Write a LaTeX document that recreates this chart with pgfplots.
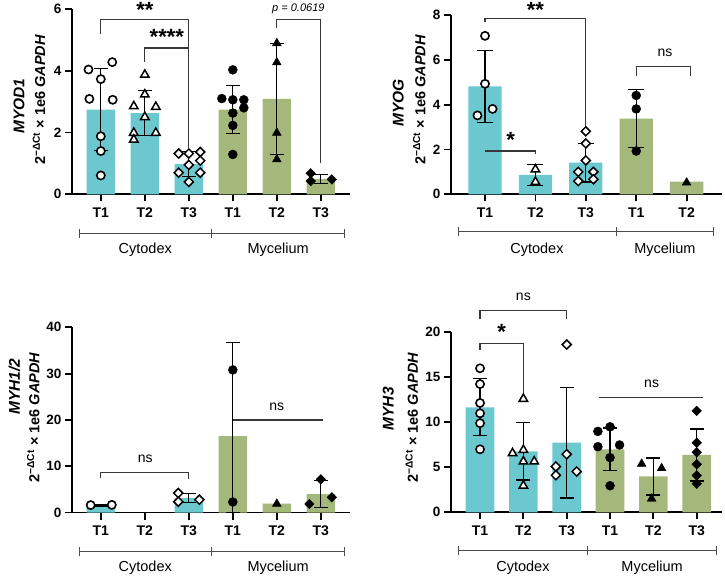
\documentclass[border=0pt]{standalone}
\usepackage{fontspec}
\setmainfont{Liberation Sans}
\usepackage{pgfplots}
\pgfplotsset{compat=1.18}
\definecolor{cyto}{RGB}{108,200,207}
\definecolor{myc}{RGB}{164,184,123}
\definecolor{brk}{RGB}{55,55,55}
\newcommand{\grpfont}{\fontsize{14.5}{17}\selectfont}
\pgfplotsset{
  panel/.style={
    scale only axis, clip=false, anchor=south west,
    axis x line*=bottom, axis y line*=left,
    axis line style={-, line width=1.8pt, black},
    every outer x axis line/.append style={-},
    every outer y axis line/.append style={-},
    tick style={line width=1.8pt, black},
    tick align=outside, major tick length=7pt,
    xtick={0,...,5}, xticklabels={T1,T2,T3,T1,T2,T3},
    ymin=0,
    /pgf/number format/assume math mode=true,
    xticklabel style={font=\fontsize{14}{16}\selectfont\bfseries, yshift=-3pt},
    yticklabel style={font=\fontsize{13.5}{16}\selectfont\bfseries},
  },
  errb/.style={forget plot, draw=none, mark=none,
    error bars/.cd, y dir=both, y explicit, error mark=-,
    error bar style={draw=black, line width=1.3pt, solid},
    error mark options={draw=black, line width=1.3pt, rotate=90, mark size=#1}},
  errb/.default=7pt,
  ocirc/.style={only marks, mark=*, mark size=4.1pt, mark options={draw=black, fill=white, line width=1.6pt}},
  fcirc/.style={only marks, mark=*, mark size=4.5pt, mark options={draw=black, fill=black}},
  otri/.style={only marks, mark=triangle*, mark size=4.9pt, mark options={draw=black, fill=white, line width=1.5pt}},
  ftri/.style={only marks, mark=triangle*, mark size=5.1pt, mark options={draw=black, fill=black}},
  odia/.style={only marks, mark=square*, mark size=3.2pt, mark options={draw=black, fill=white, line width=1.5pt, rotate=45}},
  fdia/.style={only marks, mark=square*, mark size=3.4pt, mark options={draw=black, fill=black, rotate=45}},
}
\tikzset{
  brk/.style={draw=brk, line width=1.2pt},
  star/.style={font=\fontsize{22}{24}\selectfont\bfseries, anchor=base, yshift=-8pt, inner sep=0pt},
  nstext/.style={font=\fontsize{14}{16}\selectfont, inner sep=0pt},
  grpline/.style={draw=black!70, line width=1pt},
  genel/.style={font=\fontsize{15.5}{18}\selectfont\bfseries\itshape, rotate=90, anchor=center, inner sep=0pt},
  unitl/.style={font=\fontsize{14.5}{17}\selectfont\bfseries, rotate=90, anchor=center, inner sep=0pt},
}
% group bracket: left, mid, right, cyto label x, myc label x, line depth
\newcommand{\grp}[6]{%
  \draw[grpline] ([yshift=-#6pt]axis cs:#1,0) -- ([yshift=-#6pt]axis cs:#3,0);
  \draw[grpline] ([yshift=-#6pt+4.5pt]axis cs:#1,0) -- ([yshift=-#6pt-4.5pt]axis cs:#1,0);
  \draw[grpline] ([yshift=-#6pt+4.5pt]axis cs:#2,0) -- ([yshift=-#6pt-4.5pt]axis cs:#2,0);
  \draw[grpline] ([yshift=-#6pt+4.5pt]axis cs:#3,0) -- ([yshift=-#6pt-4.5pt]axis cs:#3,0);
  \node[font=\grpfont, anchor=base, inner sep=0pt] at ([yshift=-59pt]axis cs:#4,0) {Cytodex};
  \node[font=\grpfont, anchor=base, inner sep=0pt] at ([yshift=-59pt]axis cs:#5,0) {Mycelium};
}
\begin{document}
\begin{tikzpicture}
\useasboundingbox (0pt,0pt) rectangle (725pt,576pt);
\coordinate (P1) at (72pt,381.7pt);
\coordinate (P2) at (451pt,381.7pt);
\coordinate (P3) at (72pt,63.5pt);
\coordinate (P4) at (451pt,63.7pt);

% ---------------- MYOD1 ----------------
\begin{axis}[panel, at={(P1)}, width=277.5pt, height=185.3pt,
  xmin=-0.655, xmax=5.652, ymax=6, ytick={0,2,4,6}]
\addplot[ybar, bar shift=0pt, bar width=28.3pt, fill=cyto, draw=none] coordinates {(0,2.74) (1,2.63) (2,0.98)};
\addplot[ybar, bar shift=0pt, bar width=28.3pt, fill=myc, draw=none] coordinates {(3,2.74) (4,3.09) (5,0.50)};
\addplot[errb] coordinates {(0,2.74) +- (0,1.33) (1,2.63) +- (0,0.72) (2,0.98) +- (0,0.40)
  (3,2.74) +- (0,0.78) (4,3.09) +- (0,1.80) (5,0.50) +- (0,0.14)};
\addplot[ocirc] coordinates {(-0.28,4.04) (0.26,4.28) (0,3.73) (-0.26,3.09) (0.27,3.06) (0,1.88) (0,1.40) (0,0.61)};
\addplot[otri] coordinates {(1,3.87) (1,3.23) (1.25,2.83) (0.75,2.85) (1,2.50) (0.75,1.99) (1.25,1.99) (0.75,1.77)};
\addplot[odia] coordinates {(1.77,1.32) (2,1.32) (2.26,1.37) (2.26,1.09) (2,0.95) (1.77,0.70) (2.26,0.70) (2,0.40)};
\addplot[fcirc] coordinates {(3,4.03) (2.75,3.10) (3,3.06) (3.25,3.06) (3.25,2.80) (3,2.63) (3,2.23) (3,1.29)};
\addplot[ftri] coordinates {(4,4.89) (4,4.27) (4,1.99) (4,1.13)};
\addplot[fdia] coordinates {(4.77,0.68) (4.77,0.43) (5.25,0.48)};
\draw[brk] (axis cs:0,5.2) -- (axis cs:0,5.67) -- (axis cs:2,5.67) -- (axis cs:2,1.49);
\draw[brk] (axis cs:1,4.29) -- (axis cs:1,4.74) -- (axis cs:2,4.74);
\draw[brk] (axis cs:4,5.37) -- (axis cs:4,5.67) -- (axis cs:5,5.67) -- (axis cs:5,1.0);
\node[star] at (axis cs:1,5.98) {**};
\node[star] at (axis cs:1.5,5.1) {****};
\node[font=\fontsize{11}{13}\selectfont\itshape, inner sep=0pt] at (axis cs:4.49,6.02) {p = 0.0619};
\grp{-0.495}{2.52}{5.53}{1.01}{4.03}{39}
\end{axis}

% ---------------- MYOG ----------------
\begin{axis}[panel, at={(P2)}, width=270.7pt, height=179.3pt,
  xmin=-0.675, xmax=4.696, ymax=8, ytick={0,2,4,6,8},
  xtick={0,...,4}, xticklabels={T1,T2,T3,T1,T2}]
\addplot[ybar, bar shift=0pt, bar width=33.3pt, fill=cyto, draw=none] coordinates {(0,4.81) (1,0.87) (2,1.41)};
\addplot[ybar, bar shift=0pt, bar width=33.3pt, fill=myc, draw=none] coordinates {(3,3.38) (4,0.56)};
\addplot[errb=8pt] coordinates {(0,4.81) +- (0,1.6) (1,0.87) +- (0,0.47) (2,1.41) +- (0,0.86) (3,3.38) +- (0,1.3)};
\addplot[ocirc] coordinates {(0,7.07) (0,4.93) (-0.15,3.52) (0.15,3.81)};
\addplot[otri] coordinates {(1,1.11) (1,0.55)};
\addplot[odia] coordinates {(2,2.81) (2,2.27) (2,1.51) (1.85,1.0) (2.15,1.0) (1.85,0.59) (2.15,0.67)};
\addplot[fcirc] coordinates {(3,4.41) (3,3.81) (3,1.93)};
\addplot[ftri] coordinates {(4,0.52)};
\draw[brk] (axis cs:0,7.7) -- (axis cs:0,7.86) -- (axis cs:2,7.86) -- (axis cs:2,3.04);
\draw[brk] (axis cs:0,1.93) -- (axis cs:1,1.93) -- (axis cs:1,1.78);
\draw[brk] (axis cs:3,5.26) -- (axis cs:3,5.7) -- (axis cs:4.08,5.7) -- (axis cs:4.08,5.26);
\node[star] at (axis cs:1,8.26) {**};
\node[star] at (axis cs:0.51,2.44) {*};
\node[nstext] at (axis cs:3.57,6.3) {ns};
\grp{-0.53}{2.6}{4.54}{1.03}{3.57}{37.4}
\end{axis}

% ---------------- MYH1/2 ----------------
\begin{axis}[panel, at={(P3)}, width=277.5pt, height=185.2pt,
  xmin=-0.655, xmax=5.652, ymax=40, ytick={0,10,20,30,40}]
\addplot[ybar, bar shift=0pt, bar width=28.5pt, fill=cyto, draw=none] coordinates {(0,1.5) (2,3.1)};
\addplot[ybar, bar shift=0pt, bar width=28.5pt, fill=myc, draw=none] coordinates {(3,16.5) (4,1.94) (5,3.96)};
\addplot[errb] coordinates {(0,1.5) +- (0,0.12) (2,3.1) +- (0,0.95) (3,16.5) += (0,20.2) -= (0,16.5) (5,3.96) +- (0,2.9)};
\addplot[ocirc] coordinates {(-0.23,1.6) (0.25,1.65)};
\addplot[odia] coordinates {(1.76,4.2) (1.76,2.33) (2.24,2.77)};
\addplot[fcirc] coordinates {(3,30.8) (3,2.27)};
\addplot[ftri] coordinates {(4,1.87)};
\addplot[fdia] coordinates {(5,7.17) (4.74,1.84) (5.25,3.28)};
\draw[brk] (axis cs:0,7.39) -- (axis cs:0,8.68) -- (axis cs:2,8.68) -- (axis cs:2,7.17);
\draw[brk] (axis cs:3,20.0) -- (axis cs:5.06,20.0);
\node[nstext] at (axis cs:1.01,11.7) {ns};
\node[nstext] at (axis cs:4.0,22.85) {ns};
\grp{-0.495}{2.52}{5.53}{1.01}{4.03}{39}
\end{axis}

% ---------------- MYH3 ----------------
\begin{axis}[panel, at={(P4)}, width=270.7pt, height=180pt,
  xmin=-0.67, xmax=5.577, ymax=20, ytick={0,5,10,15,20}]
\addplot[ybar, bar shift=0pt, bar width=28.7pt, fill=cyto, draw=none] coordinates {(0,11.67) (1,6.78) (2,7.73)};
\addplot[ybar, bar shift=0pt, bar width=28.7pt, fill=myc, draw=none] coordinates {(3,7.0) (4,3.98) (5,6.37)};
\addplot[errb] coordinates {(0,11.67) +- (0,3.17) (1,6.78) +- (0,3.2) (2,7.73) +- (0,6.15)
  (3,7.0) +- (0,2.37) (4,3.98) +- (0,2.05) (5,6.37) +- (0,2.9)};
\addplot[ocirc] coordinates {(0,16.0) (0,14.25) (0,12.15) (0,11.0) (0,9.9) (0,7.0)};
\addplot[otri] coordinates {(1,12.6) (0.75,6.56) (1,6.92) (1,5.64) (1.25,5.64) (1,2.95)};
\addplot[odia] coordinates {(2,18.64) (2,6.45) (1.75,5.08) (1.75,4.12) (2.23,4.53)};
\addplot[fcirc] coordinates {(2.72,8.99) (3,9.5) (2.72,7.29) (3.22,7.48) (3,6.08) (3,2.95)};
\addplot[ftri] coordinates {(3.73,5.38) (4.19,4.9) (3.96,1.51)};
\addplot[fdia] coordinates {(5,11.27) (5,7.73) (5,6.67) (5,5.34) (5,4.09) (5,3.17)};
\draw[brk] (axis cs:0,21.44) -- (axis cs:0,22.4) -- (axis cs:2,22.4) -- (axis cs:2,21.44);
\draw[brk] (axis cs:0,18.03) -- (axis cs:0,18.78) -- (axis cs:1,18.78) -- (axis cs:1,13.2);
\draw[brk] (axis cs:2.75,12.78) -- (axis cs:5.14,12.78);
\node[nstext] at (axis cs:1,23.9) {ns};
\node[star] at (axis cs:0.5,20.07) {*};
\node[nstext] at (axis cs:3.96,14.26) {ns};
\grp{-0.5}{2.48}{5.46}{0.99}{3.97}{37.7}
\end{axis}

% ---------------- y labels ----------------
\node[genel] at (19pt,470pt) {MYOD1};
\node[unitl] at (39pt,476pt) {2\textsuperscript{−ΔCt} × 1e6 \textit{GAPDH}};
\node[genel] at (398.3pt,473pt) {MYOG};
\node[unitl] at (419.3pt,476pt) {2\textsuperscript{−ΔCt} × 1e6 \textit{GAPDH}};
\node[genel] at (14.3pt,189.3pt) {MYH1/2};
\node[unitl] at (33.3pt,158.5pt) {2\textsuperscript{−ΔCt} × 1e6 \textit{GAPDH}};
\node[genel] at (388.3pt,167.2pt) {MYH3};
\node[unitl] at (411.7pt,158.5pt) {2\textsuperscript{−ΔCt} × 1e6 \textit{GAPDH}};
\end{tikzpicture}
\end{document}
